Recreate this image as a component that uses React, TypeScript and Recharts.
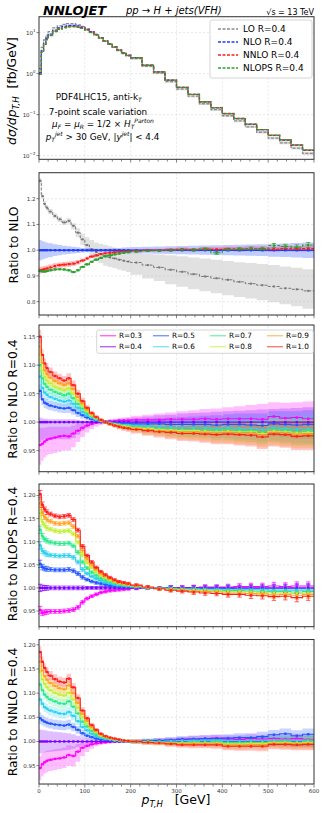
import React from "react";
import { Area, CartesianGrid, ComposedChart, ErrorBar, Line, ReferenceLine, XAxis, YAxis } from "recharts";

const FONT = "DejaVu Sans, sans-serif";
const W = 326;
const PL = 39;
const PR = 314;

// bin edges in GeV (38 bins)
const binEdges = [0, 5, 10, 15, 20, 30, 40, 50, 60, 70, 80, 90, 100, 110, 120, 130, 140, 150, 160, 170, 180, 190, 200,
  225, 250, 275, 300, 325, 350, 375, 400, 425, 450, 475, 500, 525, 550, 575, 600];
const xTicks = [0, 20, 40, 60, 80, 100, 120, 140, 160, 180, 200, 220, 240, 260, 280, 300, 320, 340, 360, 380, 400,
  420, 440, 460, 480, 500, 520, 540, 560, 580, 600];

// top panel: NLO spectrum, fb/GeV
const nloSpectrum = [1.05, 3.6, 5.6, 7.3, 9.2, 11.5, 13.0, 14.2, 14.9, 15.0, 14.5, 13.5, 12.0, 10.5, 9.0, 7.5, 6.3, 5.3, 4.5, 3.8,
  3.2, 2.8, 2.45, 1.6, 1.1, 0.69, 0.46, 0.31, 0.205, 0.148, 0.106, 0.08, 0.058, 0.043, 0.031, 0.024, 0.018, 0.0135];

// ratio to NLO
const loRatio = [1.27, 1.21, 1.18, 1.165, 1.15, 1.133, 1.12, 1.108, 1.114, 1.095, 1.068, 1.042, 1.02, 1.004, 0.993, 0.985,
  0.978, 0.972, 0.968, 0.963, 0.959, 0.956, 0.952, 0.942, 0.933, 0.924, 0.916, 0.907, 0.898, 0.891, 0.885, 0.877, 0.87,
  0.864, 0.859, 0.852, 0.848, 0.842];
const loBandHi = [1.28, 1.22, 1.19, 1.175, 1.16, 1.143, 1.13, 1.118, 1.124, 1.105, 1.085, 1.065, 1.05, 1.04, 1.03, 1.025,
  1.02, 1.015, 1.01, 1.005, 1.0, 0.995, 0.99, 0.985, 0.983, 0.98, 0.976, 0.972, 0.968, 0.963, 0.958, 0.953, 0.95, 0.946,
  0.942, 0.937, 0.932, 0.926];
const loBandLo = [1.26, 1.2, 1.17, 1.155, 1.14, 1.123, 1.11, 1.098, 1.104, 1.08, 1.05, 1.02, 0.995, 0.975, 0.96, 0.95, 0.94,
  0.935, 0.93, 0.925, 0.92, 0.915, 0.905, 0.89, 0.88, 0.868, 0.858, 0.848, 0.84, 0.833, 0.825, 0.818, 0.812, 0.805, 0.798,
  0.79, 0.782, 0.772];
const nloBandHalf = [0.04, 0.036, 0.033, 0.03, 0.027, 0.023, 0.02, 0.017, 0.015, 0.013, 0.011, 0.009, 0.008, 0.007, 0.006,
  0.006, 0.006, 0.007, 0.008, 0.009, 0.01, 0.011, 0.012, 0.013, 0.014, 0.015, 0.016, 0.017, 0.018, 0.019, 0.02, 0.021,
  0.022, 0.023, 0.025, 0.026, 0.028, 0.03];
const nnloRatio = [0.922, 0.924, 0.927, 0.929, 0.933, 0.938, 0.942, 0.944, 0.946, 0.948, 0.953, 0.96, 0.968, 0.975, 0.98,
  0.985, 0.988, 0.99, 0.992, 0.994, 0.995, 0.996, 0.998, 1.0, 1.0, 1.002, 1.003, 1.002, 1.004, 1.003, 1.005, 1.004, 1.006,
  1.005, 1.004, 1.006, 1.005, 1.006];
const nnloBandHalf = [0.014, 0.013, 0.012, 0.012, 0.011, 0.011, 0.01, 0.01, 0.01, 0.009, 0.009, 0.008, 0.007, 0.006, 0.006,
  0.005, 0.005, 0.005, 0.005, 0.005, 0.005, 0.005, 0.006, 0.006, 0.006, 0.007, 0.007, 0.007, 0.008, 0.008, 0.008, 0.009,
  0.009, 0.009, 0.01, 0.01, 0.01, 0.011];
const nlopsRatio = [0.92, 0.918, 0.917, 0.919, 0.922, 0.925, 0.926, 0.925, 0.922, 0.915, 0.922, 0.935, 0.945, 0.955, 0.963,
  0.97, 0.976, 0.98, 0.984, 0.987, 0.99, 0.992, 0.995, 0.998, 0.999, 1.0, 1.002, 1.001, 1.004, 0.99, 1.002, 1.004, 1.006,
  1.005, 1.018, 1.015, 1.012, 1.02];
const nlopsErr = [0.003, 0.002, 0.002, 0.002, 0.002, 0.002, 0.002, 0.002, 0.002, 0.002, 0.002, 0.002, 0.002, 0.002, 0.002,
  0.002, 0.002, 0.002, 0.002, 0.002, 0.002, 0.002, 0.003, 0.003, 0.003, 0.003, 0.004, 0.004, 0.005, 0.006, 0.005, 0.006,
  0.006, 0.007, 0.008, 0.008, 0.009, 0.01];

// ratio to NLO R=0.4, deviation in per mille
const p3R03 = [-40, -38, -34, -31, -29, -27, -25, -24, -25, -20, -15, -10, -6, -3, -1, 0, 1, 2, 2, 3, 3, 3, 4, 4, 4, 5, 5, 5, 6, 5, 6, 6, 6, 5, 10, 7, 8, 6];
const p3R05 = [55, 40, 34, 32, 29, 27, 25, 24, 25, 21, 16, 12, 8, 5, 3, 1, 0, -1, -1, -2, -2, -2, -3, -3, -3, -4, -4, -4, -4, -5, -4, -4, -5, -6, -3, -4, -5, -4];
const p3R06 = [80, 60, 52, 48, 44, 41, 38, 36, 38, 32, 25, 18, 12, 8, 4, 2, 0, -1, -3, -4, -5, -5, -6, -7, -8, -9, -10, -10, -10, -11, -10, -11, -11, -13, -10, -11, -12, -12];
const p3R07 = [100, 77, 67, 62, 57, 53, 50, 47, 50, 42, 32, 24, 16, 10, 6, 2, 0, -2, -4, -5, -6, -7, -8, -10, -11, -12, -13, -13, -13, -14, -13, -14, -15, -17, -13, -14, -16, -15];
const p3R08 = [118, 91, 79, 73, 68, 62, 59, 56, 59, 50, 38, 28, 19, 12, 7, 3, 0, -2, -4, -6, -7, -8, -10, -11, -13, -14, -15, -15, -16, -17, -16, -17, -17, -20, -16, -17, -19, -18];
const p3R09 = [133, 104, 91, 84, 78, 72, 68, 65, 68, 58, 44, 33, 22, 14, 8, 3, 0, -3, -5, -7, -9, -10, -11, -13, -15, -16, -18, -18, -19, -19, -19, -20, -20, -23, -19, -20, -22, -21];
const p3R10 = [150, 118, 103, 95, 88, 81, 77, 73, 77, 65, 50, 37, 25, 16, 9, 4, 0, -3, -6, -8, -10, -11, -13, -15, -17, -18, -20, -20, -21, -22, -21, -22, -23, -26, -21, -22, -25, -24];
const p3W = [12, 10, 9, 9, 8, 8, 8, 8, 9, 8, 7, 6, 5, 4, 3, 3, 3, 4, 4, 5, 5, 6, 7, 9, 10, 12, 13, 14, 15, 17, 18, 19, 20, 21, 22, 23, 24, 25];
const p3R03Lo = [-75, -68, -62, -58, -56, -54, -52, -50, -50, -44, -35, -26, -18, -12, -8, -5, -3, -2, -3, -4, -5, -6, -7, -8, -10, -12, -13, -15, -17, -18, -19, -20, -21, -22, -20, -22, -23, -25];
const p3R03Hi = [-10, -10, -10, -9, -8, -8, -8, -8, -8, -6, -3, 0, 1, 2, 2, 2, 3, 5, 6, 7, 8, 9, 11, 13, 15, 17, 19, 21, 23, 24, 26, 28, 30, 32, 35, 34, 35, 36];
const p3R04Lo = [-35, -32, -30, -30, -30, -30, -30, -30, -30, -28, -22, -15, -10, -6, -3, -2, -2, -3, -4, -5, -6, -7, -8, -10, -12, -13, -15, -16, -17, -18, -19, -20, -21, -22, -23, -24, -25, -26];
const p3R04Hi = [8, 7, 6, 6, 5, 5, 5, 5, 5, 5, 4, 3, 2, 2, 2, 2, 2, 3, 4, 5, 6, 7, 8, 10, 12, 13, 15, 16, 17, 18, 19, 20, 21, 22, 23, 24, 25, 26];

// ratio to NLOPS R=0.4, per mille
const p4R03 = [-48, -54, -53, -52, -51, -51, -51, -50, -49, -47, -42, -31, -23, -18, -14, -10, -8, -6, -5, -4, -3, -2, -1, 0, 0, 1, 1, 1, 2, 2, 2, 3, 3, 3, 4, 3, 4, 4];
const p4R05 = [52, 45, 42, 41, 40, 39, 39, 39, 40, 37, 31, 23, 18, 14, 11, 9, 7, 5, 4, 3, 3, 2, 1, 0, 0, 0, -1, -1, -1, -1, -1, -2, -2, -2, -2, -2, -2, -2];
const p4R06 = [92, 80, 76, 73, 71, 70, 69, 70, 70, 66, 56, 40, 31, 25, 20, 16, 12, 10, 7, 6, 5, 4, 2, 0, -1, -1, -2, -2, -3, -3, -4, -4, -4, -4, -5, -5, -5, -5];
const p4R07 = [126, 112, 105, 102, 99, 97, 96, 96, 97, 91, 77, 56, 43, 34, 27, 21, 17, 13, 10, 8, 6, 5, 3, 1, -1, -2, -3, -4, -5, -5, -6, -6, -7, -7, -8, -8, -9, -8];
const p4R08 = [162, 143, 135, 130, 127, 124, 122, 123, 124, 117, 99, 71, 55, 44, 35, 28, 22, 17, 13, 10, 8, 7, 4, 1, -1, -3, -4, -5, -6, -7, -8, -8, -9, -10, -11, -11, -12, -11];
const p4R09 = [183, 163, 153, 148, 144, 140, 139, 140, 141, 133, 112, 81, 63, 50, 40, 31, 25, 20, 15, 12, 10, 8, 5, 1, -2, -4, -5, -7, -8, -9, -11, -11, -12, -13, -15, -14, -16, -14];
const p4R10 = [203, 180, 170, 164, 160, 156, 154, 155, 157, 148, 125, 90, 70, 56, 44, 35, 28, 22, 17, 13, 11, 9, 6, 2, -2, -5, -7, -9, -11, -12, -14, -14, -16, -17, -19, -18, -21, -18];
// statistical error, per mille
const p4Err = [8, 6, 5, 5, 4, 4, 4, 4, 4, 4, 4, 4, 3, 3, 3, 3, 3, 3, 3, 3, 3, 3, 3, 3, 3, 4, 4, 5, 5, 5, 6, 6, 7, 7, 8, 8, 9, 9];

// ratio to NNLO R=0.4, per mille
const p5R03 = [-55, -47, -43, -40, -38, -36, -35, -33, -28, -30, -21, -13, -9, -6, -4, -3, -2, -1, 0, 0, 0, 0, 0, 1, 2, 3, 4, 5, 6, 7, 5, 4, 6, 5, 6, 5, 6, 4];
const p5R05 = [48, 44, 41, 39, 37, 35, 34, 33, 35, 30, 24, 17, 12, 9, 6, 4, 3, 2, 1, 1, 1, 0, 0, 1, 2, 3, 5, 5, 6, 6, 7, 8, 8, 10, 14, 16, 12, 15];
const p5R06 = [87, 78, 71, 68, 64, 61, 58, 57, 61, 53, 42, 30, 23, 16, 11, 8, 5, 4, 2, 2, 1, 0, 0, 0, 0, 1, 2, 2, 2, 2, 1, 1, 2, 2, 3, 3, 2, 3];
const p5R07 = [118, 106, 97, 92, 87, 83, 79, 78, 83, 72, 58, 41, 31, 22, 15, 10, 7, 5, 3, 2, 1, 1, 0, 0, -1, -1, -1, 0, -1, 0, -2, -2, -1, -1, 0, 0, -1, 0];
const p5R08 = [145, 129, 119, 112, 106, 101, 97, 95, 101, 87, 70, 50, 37, 27, 19, 12, 9, 6, 4, 3, 2, 1, 0, -1, -2, -3, -3, -3, -3, -3, -5, -5, -4, -4, -2, -2, -3, -2];
const p5R09 = [165, 147, 135, 128, 121, 115, 110, 108, 116, 100, 80, 57, 43, 30, 21, 14, 10, 7, 5, 3, 2, 1, 0, -2, -3, -4, -5, -5, -5, -5, -8, -8, -7, -7, -4, -4, -5, -4];
const p5R10 = [185, 165, 152, 144, 136, 129, 124, 122, 130, 112, 90, 64, 48, 34, 24, 16, 11, 8, 6, 4, 2, 1, 0, -2, -3, -5, -7, -7, -7, -7, -10, -10, -10, -10, -6, -6, -7, -6];
const p5W = [12, 11, 10, 10, 10, 10, 10, 10, 10, 9, 8, 7, 6, 5, 4, 3, 3, 3, 3, 3, 3, 3, 4, 5, 5, 6, 6, 7, 7, 8, 8, 9, 9, 10, 10, 11, 11, 12];
const p5R04Half = [25, 24, 23, 22, 21, 20, 19, 18, 17, 15, 12, 9, 7, 5, 4, 3, 3, 3, 3, 3, 3, 3, 3, 4, 5, 5, 6, 6, 7, 7, 8, 8, 9, 9, 10, 10, 11, 11];
const p5R03Lo = [-80, -72, -67, -64, -61, -59, -57, -55, -50, -52, -42, -30, -22, -15, -10, -7, -5, -4, -3, -3, -3, -3, -3, -3, -3, -2, -2, -2, -1, -1, -4, -5, -4, -5, -5, -6, -6, -8];
const p5R03Hi = [-30, -24, -21, -19, -18, -16, -15, -13, -8, -10, -5, -1, 1, 2, 2, 2, 2, 2, 3, 3, 3, 3, 3, 5, 7, 8, 10, 12, 13, 14, 13, 13, 15, 14, 16, 15, 16, 15];

const rKeys = ["r03", "r04", "r05", "r06", "r07", "r08", "r09", "r10"];
const rLabels = ["R=0.3", "R=0.4", "R=0.5", "R=0.6", "R=0.7", "R=0.8", "R=0.9", "R=1.0"];
const rColors = ["#ff00ff", "#8000ff", "#2256ff", "#2cd0f0", "#2ee88e", "#c2f032", "#ffa21f", "#ff1f1f"];

const C_LO = "#8c8c8c";
const C_NLO = "#1f3dff";
const C_NNLO = "#ff1a1a";
const C_NLOPS = "#2ca02c";

const pm = (v: number) => 1 + v / 1000;

function buildRows(f: (i: number) => Record<string, number | number[]>, err?: (i: number) => Record<string, number>) {
  const rows: any[] = [];
  const n = binEdges.length - 1;
  for (let i = 0; i < n; i++) {
    const v = f(i);
    rows.push({ x: binEdges[i], c: false, ...v });
    rows.push({ x: (binEdges[i] + binEdges[i + 1]) / 2, c: true, ...v, ...(err ? err(i) : {}) });
  }
  rows.push({ x: binEdges[n], c: false, ...f(n - 1) });
  return rows;
}

const p1Rows = buildRows((i) => {
  const s = nloSpectrum[i];
  return {
    lo: s * loRatio[i],
    nlo: s,
    nnlo: s * nnloRatio[i],
    nlops: s * nlopsRatio[i],
    loBand: [s * loBandLo[i], s * loBandHi[i]],
    nloBand: [s * (1 - nloBandHalf[i]), s * (1 + nloBandHalf[i])],
  };
});

const p2Rows = buildRows(
  (i) => ({
    lo: loRatio[i],
    nlo: 1,
    nnlo: nnloRatio[i],
    nlops: nlopsRatio[i],
    loBand: [loBandLo[i], loBandHi[i]],
    nloBand: [1 - nloBandHalf[i], 1 + nloBandHalf[i]],
    nnloBand: [nnloRatio[i] - nnloBandHalf[i], nnloRatio[i] + nnloBandHalf[i]],
  }),
  (i) => ({ e: nlopsErr[i] })
);

const sym = (v: number, w: number) => [pm(v - w), pm(v + w)];

const p3Rows = buildRows((i) => ({
  r03: pm(p3R03[i]), r04: 1, r05: pm(p3R05[i]), r06: pm(p3R06[i]), r07: pm(p3R07[i]),
  r08: pm(p3R08[i]), r09: pm(p3R09[i]), r10: pm(p3R10[i]),
  b03: [pm(p3R03Lo[i]), pm(p3R03Hi[i])],
  b04: [pm(p3R04Lo[i]), pm(p3R04Hi[i])],
  b05: sym(p3R05[i], p3W[i]), b06: sym(p3R06[i], p3W[i]), b07: sym(p3R07[i], p3W[i]),
  b08: sym(p3R08[i], p3W[i]), b09: sym(p3R09[i], p3W[i]), b10: sym(p3R10[i], p3W[i]),
}));

const p4Rows = buildRows(
  (i) => ({
    r03: pm(p4R03[i]), r04: 1, r05: pm(p4R05[i]), r06: pm(p4R06[i]), r07: pm(p4R07[i]),
    r08: pm(p4R08[i]), r09: pm(p4R09[i]), r10: pm(p4R10[i]),
  }),
  (i) => ({ e: p4Err[i] / 1000 })
);

const p5Rows = buildRows((i) => ({
  r03: pm(p5R03[i]), r04: 1, r05: pm(p5R05[i]), r06: pm(p5R06[i]), r07: pm(p5R07[i]),
  r08: pm(p5R08[i]), r09: pm(p5R09[i]), r10: pm(p5R10[i]),
  b03: [pm(p5R03Lo[i]), pm(p5R03Hi[i])],
  b04: sym(0, p5R04Half[i]),
  b05: sym(p5R05[i], p5W[i]), b06: sym(p5R06[i], p5W[i]), b07: sym(p5R07[i], p5W[i]),
  b08: sym(p5R08[i], p5W[i]), b09: sym(p5R09[i], p5W[i]), b10: sym(p5R10[i], p5W[i]),
}));

function squareDot(color: string, size: number) {
  return (p: any) => {
    if (!p.payload || !p.payload.c || p.cx == null || p.cy == null) return <g key={`n${p.index}`} />;
    return <rect key={`d${p.index}`} x={p.cx - size / 2} y={p.cy - size / 2} width={size} height={size} fill={color} />;
  };
}

function stepLine(key: string, color: string, width: number, marker: number, dash?: string, errKey?: string) {
  return (
    <Line key={key} type="stepAfter" dataKey={key} stroke={color} strokeWidth={width} strokeDasharray={dash}
      dot={marker > 0 ? squareDot(color, marker) : false} activeDot={false} isAnimationActive={false} legendType="none">
      {errKey ? <ErrorBar dataKey={errKey} direction="y" width={2.2} stroke={color} strokeWidth={0.7} isAnimationActive={false} /> : null}
    </Line>
  );
}

function band(key: string, color: string, opacity: number) {
  return (
    <Area key={key} type="stepAfter" dataKey={key} stroke="none" fill={color} fillOpacity={opacity}
      dot={false} activeDot={false} isAnimationActive={false} legendType="none" />
  );
}

function XTick(props: any) {
  const { x, y, payload, labels } = props;
  const v = payload.value;
  const major = v % 100 === 0;
  return (
    <g>
      <line x1={x} x2={x} y1={y} y2={y + (major ? 3 : 2)} stroke="#333" strokeWidth={0.6} />
      {labels && major ? (
        <text x={x} y={y + 8} textAnchor="middle" fontSize={5.5} fill="#333" fontFamily={FONT}>{v}</text>
      ) : null}
    </g>
  );
}

function LogTick(props: any) {
  const { x, y, payload } = props;
  const e = Math.round(Math.log10(payload.value));
  return (
    <text x={x} y={y + 2} textAnchor="end" fontSize={5.5} fill="#333" fontFamily={FONT}>
      10<tspan dy={-2.5} fontSize={4}>{e < 0 ? "\u2212" + -e : String(e)}</tspan>
    </text>
  );
}

type PanelProps = {
  top: number;
  bottom: number;
  domain: [number, number];
  ticks: number[];
  rows: any[];
  log?: boolean;
  digits?: number;
  xLabels?: boolean;
  children: React.ReactNode;
};

function Panel({ top, bottom, domain, ticks, rows, log, digits, xLabels, children }: PanelProps) {
  const mt = 6;
  const xh = xLabels ? 14 : 5;
  const h = mt + (bottom - top) + xh;
  return (
    <div style={{ position: "absolute", left: 0, top: top - mt }}>
      <ComposedChart width={W} height={h} data={rows} margin={{ top: mt, right: W - PR, bottom: 0, left: PL - 30 }}>
        <CartesianGrid vertical={false} stroke="#d6d6d6" strokeDasharray="2 2" strokeWidth={0.6} />
        {[100, 200, 300, 400, 500].map((v) => (
          <ReferenceLine key={v} x={v} stroke="#d6d6d6" strokeDasharray="2 2" strokeWidth={0.6} />
        ))}
        <XAxis dataKey="x" type="number" domain={[0, 600]} ticks={xTicks} interval={0} allowDataOverflow
          axisLine={false} tickLine={false} tickSize={0} tickMargin={0} height={xh} tick={<XTick labels={!!xLabels} />} />
        <YAxis type="number" scale={log ? "log" : "linear"} domain={domain} ticks={ticks} interval={0} allowDataOverflow
          width={30} axisLine={false} tickSize={2.5} tickMargin={1} tickLine={{ stroke: "#333", strokeWidth: 0.6 }}
          tick={log ? <LogTick /> : { fontSize: 5.5, fill: "#333", fontFamily: FONT }}
          tickFormatter={(v: number) => (digits != null ? v.toFixed(digits) : String(v))} />
        {children}
      </ComposedChart>
    </div>
  );
}

const panelBoxes = [
  { top: 16.7, bottom: 159.3 },
  { top: 172.7, bottom: 315 },
  { top: 325, bottom: 471.7 },
  { top: 484, bottom: 626.7 },
  { top: 639.5, bottom: 784 },
];

function rBands(opacity: number) {
  return rKeys.map((k, j) => band(k.replace("r", "b"), rColors[j], opacity));
}
function rLines(marker: number, errKey?: string) {
  return rKeys.map((k, j) => stepLine(k, rColors[j], 1.1, marker, undefined, errKey));
}

const legend1 = [
  { label: "LO R=0.4", color: C_LO },
  { label: "NLO R=0.4", color: C_NLO },
  { label: "NNLO R=0.4", color: C_NNLO },
  { label: "NLOPS R=0.4", color: C_NLOPS },
];

function YLabel({ x, y, children }: { x: number; y: number; children: React.ReactNode }) {
  return (
    <text transform={`translate(${x},${y}) rotate(-90)`} textAnchor="middle" fontSize={12.3} fill="#000">{children}</text>
  );
}

export default function App() {
  const [b1, b2, b3, b4, b5] = panelBoxes;
  return (
    <div style={{ position: "absolute", left: 0, top: 0, width: W, height: 813, background: "#fff", overflow: "hidden", fontFamily: FONT }}>
      <Panel top={b1.top} bottom={b1.bottom} domain={[0.008, 24]} ticks={[0.01, 0.1, 1, 10]} rows={p1Rows} log>
        {band("loBand", "#b4b4b4", 0.45)}
        {band("nloBand", C_NLO, 0.2)}
        {stepLine("lo", C_LO, 1.3, 0, "3 1.5")}
        {stepLine("nlo", C_NLO, 1.3, 0, "3 1.5")}
        {stepLine("nnlo", C_NNLO, 1.3, 0, "3 1.5")}
        {stepLine("nlops", C_NLOPS, 1.3, 0, "3 1.5")}
      </Panel>
      <Panel top={b2.top} bottom={b2.bottom} domain={[0.747, 1.3]} ticks={[0.8, 0.9, 1.0, 1.1, 1.2]} rows={p2Rows} digits={1}>
        {band("loBand", "#b4b4b4", 0.4)}
        {band("nloBand", "#3355ff", 0.3)}
        {band("nnloBand", C_NNLO, 0.3)}
        {stepLine("lo", "#777", 1, 2, "3 1.5")}
        {stepLine("nlo", C_NLO, 1.6, 2.4)}
        {stepLine("nnlo", C_NNLO, 1.1, 2.2, "3 1.5")}
        {stepLine("nlops", C_NLOPS, 1.1, 2.2, "3 1.5", "e")}
      </Panel>
      <Panel top={b3.top} bottom={b3.bottom} domain={[0.913, 1.1705]} ticks={[0.95, 1.0, 1.05, 1.1, 1.15]} rows={p3Rows} digits={2}>
        {rBands(0.25)}
        {rLines(2.4)}
      </Panel>
      <Panel top={b4.top} bottom={b4.bottom} domain={[0.916, 1.225]} ticks={[0.95, 1.0, 1.05, 1.1, 1.15, 1.2]} rows={p4Rows} digits={2}>
        {rLines(2.4, "e")}
      </Panel>
      <Panel top={b5.top} bottom={b5.bottom} domain={[0.911, 1.21]} ticks={[0.95, 1.0, 1.05, 1.1, 1.15, 1.2]} rows={p5Rows} digits={2} xLabels>
        {rBands(0.25)}
        {rLines(2.4)}
      </Panel>

      <svg width={W} height={813} style={{ position: "absolute", left: 0, top: 0, pointerEvents: "none" }} fontFamily={FONT}>
        {panelBoxes.map((b, i) => (
          <rect key={i} x={PL} y={b.top} width={PR - PL} height={b.bottom - b.top} fill="none" stroke="#333" strokeWidth={1} />
        ))}

        <text x={43} y={14.5} fontSize={13} fontWeight="bold" fontStyle="italic">NNLOJET</text>
        <text x={126} y={13.5} fontSize={10} fontStyle="italic">pp → H + jets(VFH)</text>
        <text x={314} y={14.5} fontSize={8} textAnchor="end">√s = 13 TeV</text>

        <rect x={210} y={20} width={102} height={58} rx={2} fill="#fff" fillOpacity={0.85} stroke="#cccccc" strokeWidth={0.8} />
        {legend1.map((l, i) => (
          <g key={l.label}>
            <line x1={218} x2={238} y1={29 + i * 13} y2={29 + i * 13} stroke={l.color} strokeWidth={1.3} strokeDasharray="3 1.5" />
            <text x={243} y={32.2 + i * 13} fontSize={9}>{l.label}</text>
          </g>
        ))}

        <g fontSize={8.8} textAnchor="middle">
          <text x={98.8} y={100}>PDF4LHC15, anti-k<tspan fontSize={6} fontStyle="italic" dy={2}>T</tspan></text>
          <text x={98} y={114.5}>7-point scale variation</text>
          <text x={103} y={126.5}>
            <tspan fontStyle="italic">μ</tspan><tspan fontSize={6} fontStyle="italic" dy={2}>F</tspan>
            <tspan dy={-2}> = </tspan><tspan fontStyle="italic">μ</tspan><tspan fontSize={6} fontStyle="italic" dy={2}>R</tspan>
            <tspan dy={-2}> = 1/2 × </tspan><tspan fontStyle="italic">H</tspan>
            <tspan fontSize={6} fontStyle="italic" dy={2}>T</tspan>
            <tspan fontSize={6} fontStyle="italic" dy={-6}>Parton</tspan>
          </text>
          <text x={102.5} y={140}>
            <tspan fontStyle="italic">p</tspan><tspan fontSize={6} fontStyle="italic" dy={2}>T</tspan>
            <tspan fontSize={6} fontStyle="italic" dy={-6}>jet</tspan>
            <tspan dy={4}> &gt; 30 GeV, |</tspan><tspan fontStyle="italic">y</tspan>
            <tspan fontSize={6} fontStyle="italic" dy={-4}>jet</tspan><tspan dy={4}>| &lt; 4.4</tspan>
          </text>
        </g>

        <rect x={96.7} y={330} width={216.6} height={23.3} rx={2} fill="#fff" fillOpacity={0.85} stroke="#cccccc" strokeWidth={0.8} />
        {rLabels.map((l, j) => {
          const col = Math.floor(j / 2);
          const row = j % 2;
          const lx = [100, 153, 210, 267][col];
          const y = 335.7 + row * 11;
          return (
            <g key={l}>
              <line x1={lx} x2={lx + 16} y1={y} y2={y} stroke={rColors[j]} strokeOpacity={0.6} strokeWidth={1.4} />
              <text x={lx + 19} y={y + 2.5} fontSize={7.3}>{l}</text>
            </g>
          );
        })}

        <YLabel x={16} y={91}>
          <tspan fontStyle="italic">dσ/dp</tspan><tspan fontSize={8.5} fontStyle="italic" dy={3}>T,H</tspan>
          <tspan dy={-3}>{"\u00a0\u00a0[fb/GeV]"}</tspan>
        </YLabel>
        <YLabel x={18} y={245}>Ratio to NLO</YLabel>
        <YLabel x={17} y={399}>Ratio to NLO R=0.4</YLabel>
        <YLabel x={17} y={554}>Ratio to NLOPS R=0.4</YLabel>
        <YLabel x={17} y={712}>Ratio to NNLO R=0.4</YLabel>

        <text x={176} y={804} fontSize={12.5} textAnchor="middle">
          <tspan fontStyle="italic">p</tspan><tspan fontSize={8.5} fontStyle="italic" dy={3}>T,H</tspan>
          <tspan dy={-3}>{"\u00a0\u00a0\u00a0[GeV]"}</tspan>
        </text>
      </svg>
    </div>
  );
}
